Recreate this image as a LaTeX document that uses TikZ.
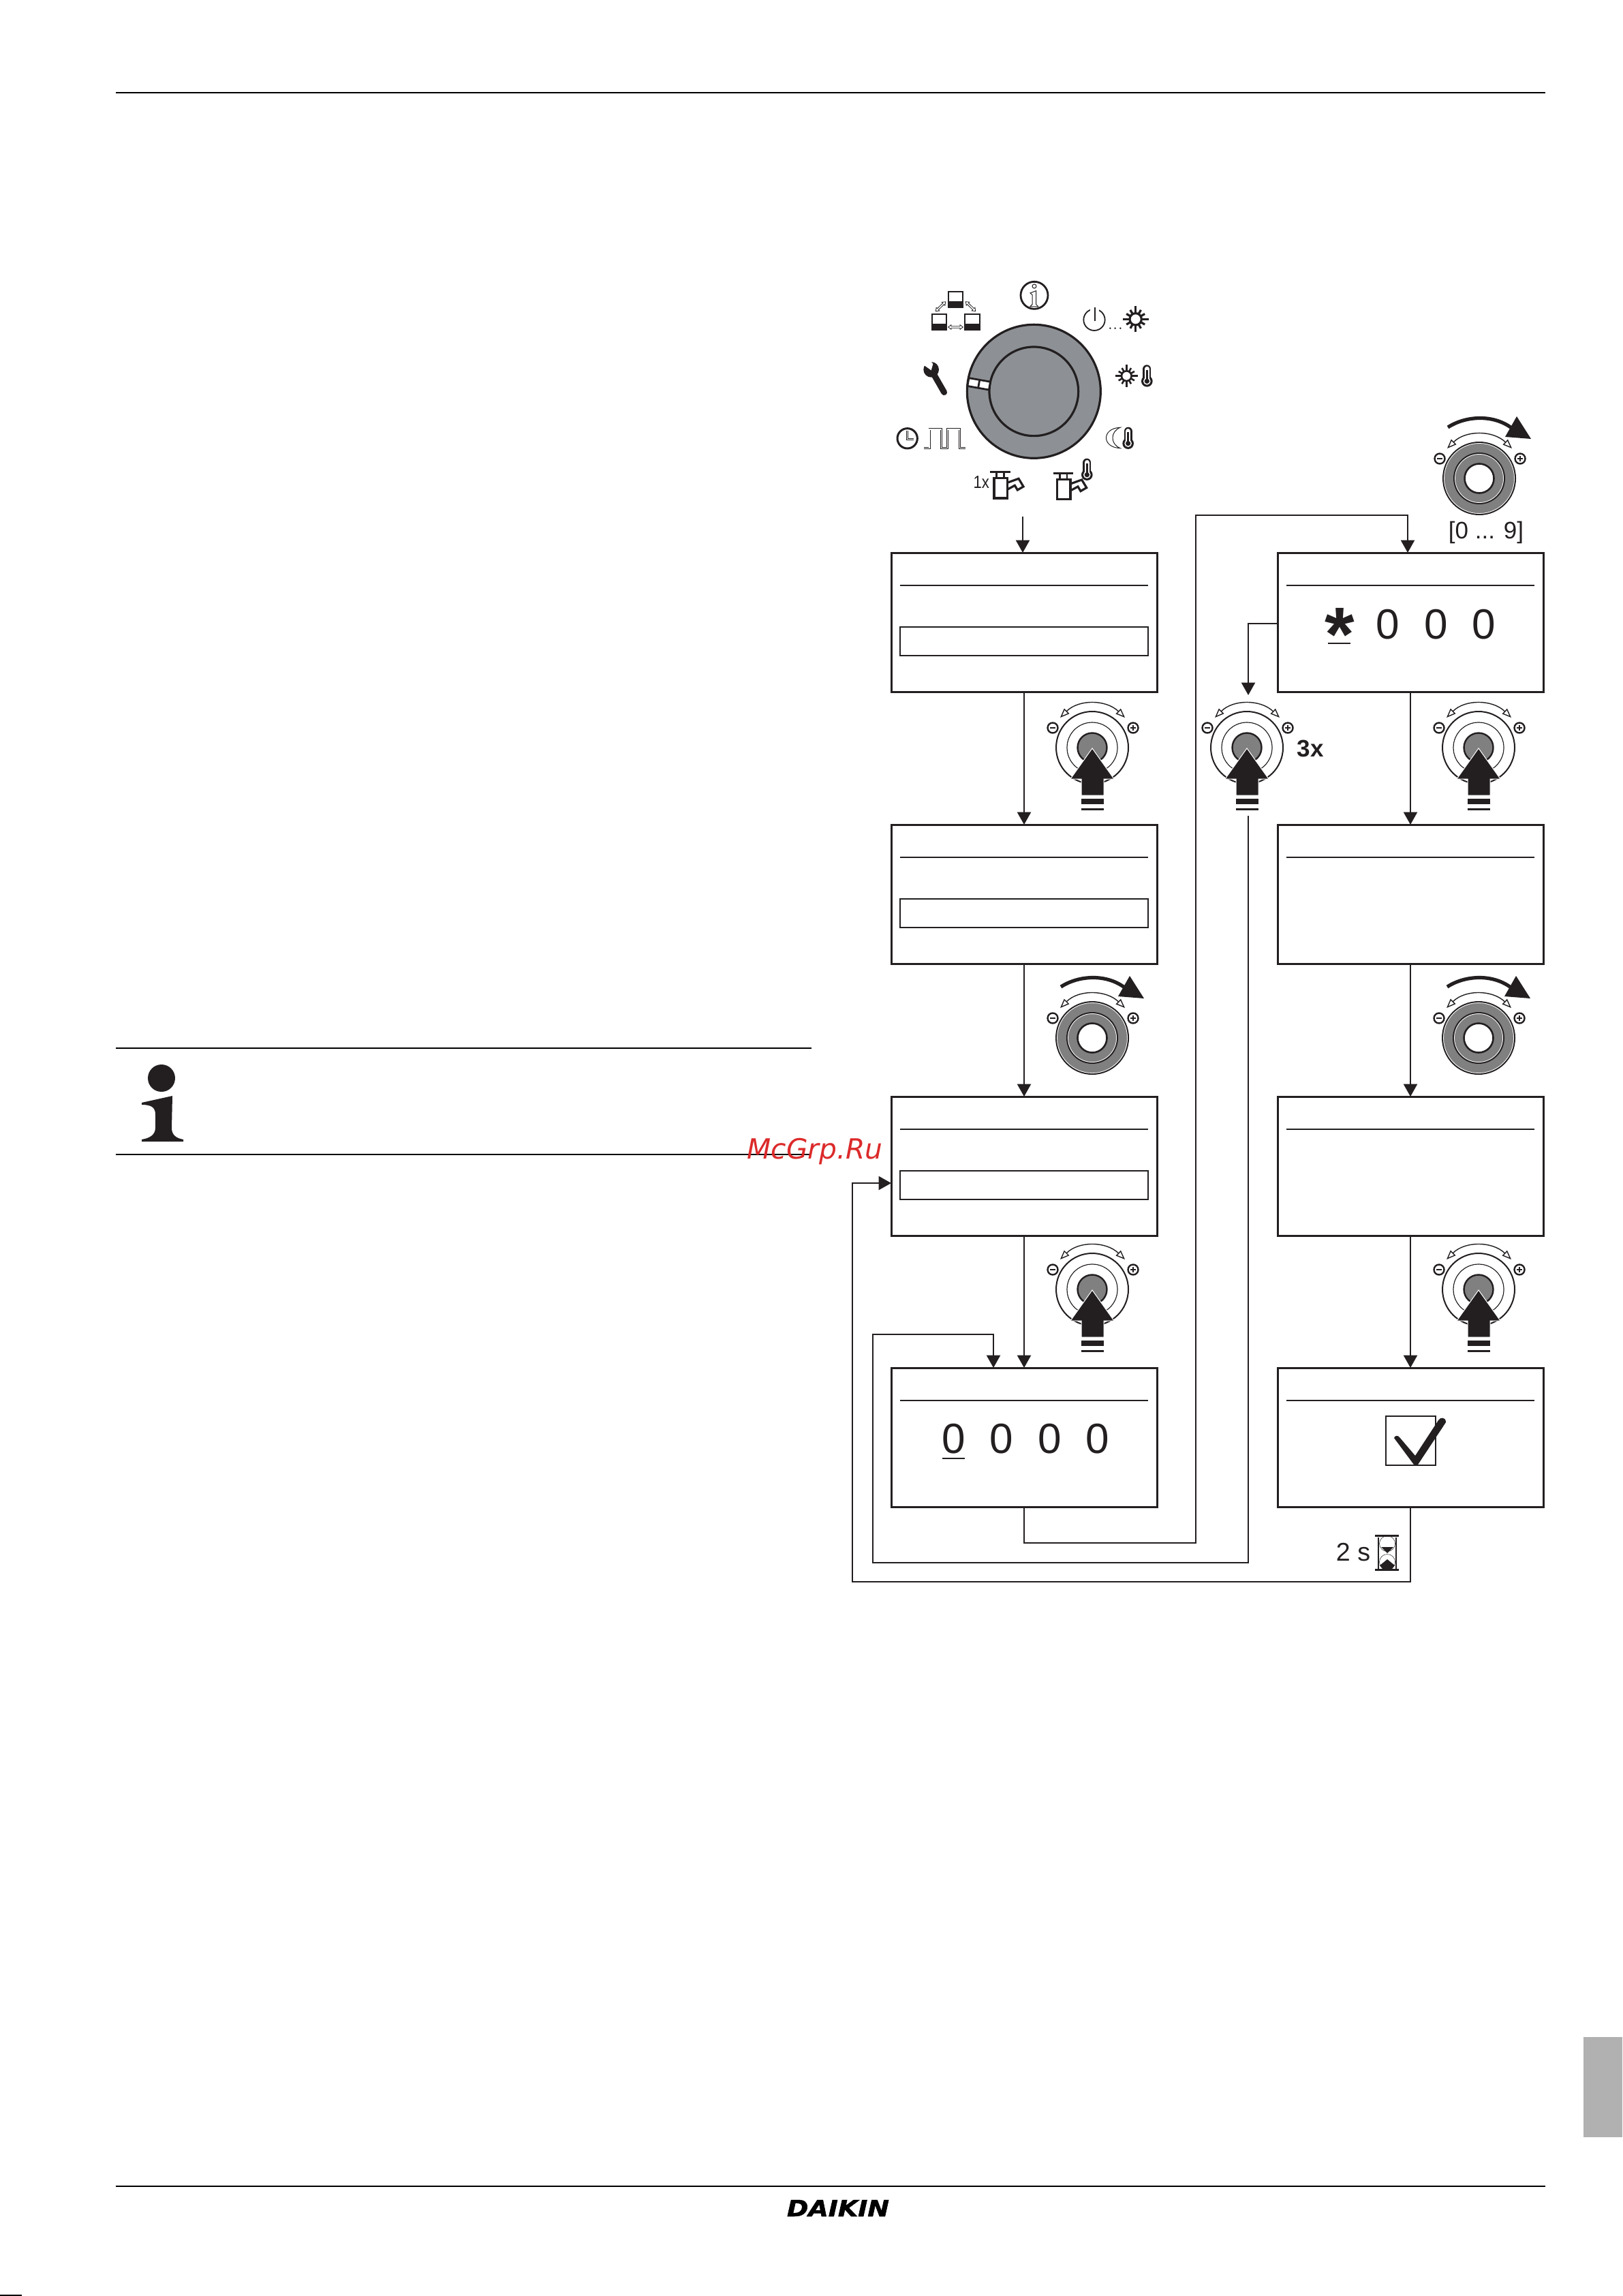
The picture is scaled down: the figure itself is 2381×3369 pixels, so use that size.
\documentclass[tikz,border=0pt]{standalone}
\usepackage{fontspec}
\setmainfont{Liberation Sans}
\newfontfamily\wmfont{DejaVu Sans}
\newfontfamily\logofont[BoldItalicFeatures={FakeBold=1.5}]{DejaVu Sans}
\usetikzlibrary{arrows.meta}
\definecolor{ink}{HTML}{231F20}
\definecolor{dialgray}{HTML}{8D9195}
\definecolor{knobgray}{HTML}{808080}
\definecolor{tabgray}{HTML}{B1B1B1}
\definecolor{wmred}{HTML}{DC2A2A}
\tikzset{
  screen/.style={draw=ink,line width=.75pt,fill=white,rectangle,inner sep=0pt,outer sep=0pt,minimum width=97.5pt,minimum height=51pt},
  conn/.style={draw=ink,line width=.6pt,line join=miter},
  flow/.style={conn,-{Triangle[length=4.6pt,width=5pt]}},
  rule/.style={draw=black,line width=.65pt},
  scr/.style={draw=ink,line width=.55pt},
  digit/.style={inner sep=0pt,outer sep=0pt,text=ink,font=\fontsize{15.5}{15.5}\selectfont},
  lab/.style={inner sep=0pt,outer sep=0pt,text=ink,font=\fontsize{9}{9}\selectfont},
  dial/.style={draw=ink,line width=.8pt},
}
\newcommand{\smallarc}{%
  \draw[ink,line width=.35pt,{Triangle[open,length=3.4pt,width=2.6pt,fill=white]}-{Triangle[open,length=3.4pt,width=2.6pt,fill=white]}]
    (-47,-44) .. controls (-20,-71) and (20,-71) .. (48,-44);
  \draw[ink,line width=.6pt,fill=white] (-58,-29) circle (7.5);
  \draw[ink,line width=.5pt] (-62,-29) -- (-54,-29);
  \draw[ink,line width=.6pt,fill=white] (60,-29) circle (7.5);
  \draw[ink,line width=.5pt] (56,-29) -- (64,-29) (60,-33) -- (60,-25);
}
\newcommand{\pressknob}[2]{%
  \begin{scope}[shift={(#1,#2)}]
  \smallarc
  \draw[ink,line width=.5pt] (0,0) circle (53);
  \draw[ink,line width=.3pt] (0,0) circle (37);
  \fill[white] (0,0) circle (36);
  \draw[ink,line width=.6pt,fill=knobgray] (0,0) circle (21.5);
  \draw[white,line width=.25pt,fill=ink] (0,1) -- (32,46) -- (17,46) -- (17,70) -- (-16,70) -- (-16,46) -- (-32,46) -- cycle;
  \fill[ink] (-16,75) rectangle (17,83);
  \fill[ink] (-16,89) rectangle (17,92);
  \end{scope}}
\newcommand{\turnknob}[2]{%
  \begin{scope}[shift={(#1,#2)}]
  \smallarc
  \draw[ink,line width=.5pt,fill=knobgray] (0,0) circle (53);
  \draw[white,line width=.2pt] (0,0) circle (51.5);
  \draw[ink,line width=.5pt] (0,0) circle (37);
  \draw[white,line width=.2pt] (0,0) circle (35.5);
  \draw[ink,line width=.65pt,fill=white] (0,0) circle (21.5);
  \draw[ink,line width=1.3pt] (-46,-75) .. controls (-20,-92) and (22,-95) .. (50,-72);
  \fill[ink] (55,-91) -- (76,-58) -- (38,-61) -- cycle;
  \end{scope}}
\newcommand{\thermoicon}[2]{%
  \draw[ink,line width=3pt,line cap=round] (#1,#2+18) -- (#1,#2+70);
  \fill[ink] (#1,#2+72) circle (25);
  \draw[white,line width=1.8pt,line cap=round] (#1,#2+18) -- (#1,#2+70);
  \fill[white] (#1,#2+72) circle (16);
  \draw[ink,line width=.6pt] (#1,#2+22) -- (#1,#2+70);
  \fill[ink] (#1,#2+72) circle (11);
}
\newcommand{\sunicon}[4]{%
  \foreach \a in {0,90,180,270} \draw[ink,line width=#4pt] ({#1+(#3)*cos(\a)},{#2+(#3)*sin(\a)}) -- (#1,#2);
  \foreach \a in {30,60,120,150,210,240,300,330} \draw[ink,line width=#4pt] ({#1+.82*(#3)*cos(\a)},{#2+.82*(#3)*sin(\a)}) -- (#1,#2);
}
\newcommand{\tapicon}[2]{%
  \begin{scope}[shift={(#1,#2)}]
  \draw[ink,line width=.8pt,fill=white] (625,985) -- (675,967) -- (696,1002) -- (670,1017) -- (658,997) -- (625,1015) -- cycle;
  \draw[ink,line width=.6pt,fill=white] (578,938) rectangle (610,965);
  \draw[ink,line width=.9pt,fill=white] (567,965) rectangle (625,1053);
  \draw[ink,line width=.75pt] (550,938) -- (638,938);
  \end{scope}}
\newcommand{\pcicon}[2]{%
  \begin{scope}[shift={(#1,#2)}]
  \draw[ink,line width=.55pt,fill=white] (3,3) rectangle (67,48);
  \fill[ink] (0,50) rectangle (70,75);
  \end{scope}}
\newcommand{\openarrow}[4]{%
  \draw[ink,line width=.2pt,fill=white,shift={(#1,#2)},rotate=#3] (0,0) -- (13,-10) -- (13,-4) -- (#4-13,-4) -- (#4-13,-10) -- (#4,0) -- (#4-13,10) -- (#4-13,4) -- (13,4) -- (13,10) -- cycle;}
\begin{document}
\begin{tikzpicture}[x=.25pt,y=-.25pt]
\useasboundingbox (0,0) rectangle (2381,3369);
\fill[white] (0,0) rectangle (2381,3369);
% page furniture
\draw[rule] (170,136) -- (2268,136);
\draw[rule] (170,3208) -- (2268,3208);
\fill[tabgray] (2324,2989) rectangle (2381,3136);
\draw[black,line width=.5pt] (0,3368) -- (32,3368);
\draw[rule] (170,1538) -- (1191,1538);
\draw[rule] (170,1694) -- (1191,1694);
\fill[ink] (237,1582) circle (20);
\fill[ink] (208,1618) -- (253,1608) -- (252,1655) .. controls (252,1665) and (258,1670) .. (269,1672) -- (269,1675) -- (208,1675) -- (208,1672) .. controls (220,1670) and (228,1665) .. (228,1655) -- (228,1635) .. controls (228,1625) and (222,1621) .. (208,1621) -- cycle;
\node[inner sep=0pt,text=black] (logo) at (1230,3240) {\resizebox{37.5pt}{6pt}{\logofont\bfseries\itshape DAIKIN}};

% screens
\node[screen] (a1) at (1503,913) {};
\node[screen] (a2) at (1503,1312) {};
\node[screen] (a3) at (1503,1711) {};
\node[screen] (a4) at (1503,2109) {};
\node[screen] (b1) at (2070,913) {};
\node[screen] (b2) at (2070,1312) {};
\node[screen] (b3) at (2070,1711) {};
\node[screen] (b4) at (2070,2109) {};
\foreach \n in {a1,a2,a3,a4,b1,b2,b3,b4}
  \draw[scr] ([xshift=13*.25pt,yshift=-48*.25pt]\n.north west) -- ([xshift=-13*.25pt,yshift=-48*.25pt]\n.north east);
\foreach \n in {a1,a2,a3}
  \draw[scr] ([xshift=13*.25pt,yshift=-109*.25pt]\n.north west) rectangle ([xshift=-13*.25pt,yshift=-151*.25pt]\n.north east);

% display contents
\node[digit] (d1) at (1400,2111) {0};
\node[digit] (d2) at (1470,2111) {0};
\node[digit] (d3) at (1541,2111) {0};
\node[digit] (d4) at (1611,2111) {0};
\draw[ink,line width=.7pt] (1383,2140) -- (1416,2140);
\node[digit] (e2) at (2037,916) {0};
\node[digit] (e3) at (2108,916) {0};
\node[digit] (e4) at (2178,916) {0};
\node[inner sep=0pt,outer sep=0pt,anchor=base,text=ink,font=\fontsize{28}{28}\selectfont\bfseries] (star) at (1966,969) {*};
\draw[ink,line width=.7pt] (1949,944) -- (1982,944);
\draw[ink,line width=.6pt] (2034,2078) rectangle (2107,2150);
\fill[ink] (2046,2110) .. controls (2047,2106) and (2052,2106) .. (2054,2109) -- (2077,2136) -- (2111,2084) .. controls (2114,2079) and (2122,2079) .. (2122,2087) -- (2081,2149) -- (2075,2149) -- cycle;

% knobs
\pressknob{1603}{1097}
\pressknob{1603}{1892}
\pressknob{1830}{1097}
\pressknob{2170}{1097}
\pressknob{2170}{1892}
\turnknob{1603}{1523}
\turnknob{2170}{1523}
\turnknob{2171}{702}
\node[lab,font=\fontsize{8.75}{9}\selectfont] (range) at (2181,781) {[0 ... 9]};
\node[lab,font=\fontsize{8.75}{9}\selectfont\bfseries] (three) at (1923,1098) {3x};
\node[lab,font=\fontsize{9.4}{10}\selectfont] (twos) at (1986,2278) {2 s};

% hourglass
\draw[ink,line width=.35pt] (2023,2256) -- (2023,2302) (2049,2256) -- (2049,2302);
\draw[ink,line width=.12pt] (2036,2265) circle (11.5) (2036,2292) circle (11.5);
\fill[ink] (2018,2252) rectangle (2053,2255);
\fill[ink] (2018,2302) rectangle (2053,2305);
\fill[ink] (2027,2270) -- (2045,2270) -- (2036,2279) -- cycle;
\fill[ink] (2036,2288) -- (2047,2297) -- (2043,2302) -- (2029,2302) -- (2025,2297) -- cycle;

% named free ends
\coordinate (s0) at (1501,758);
\coordinate (a1in) at (1501,811);
\coordinate (b1in) at (2066,811);
\coordinate (a4loop) at (1458,2007);
\coordinate (a4out) at (1503,2211);
\coordinate (a3in) at (1308,1736);
\coordinate (b1out) at (1875,915);
\coordinate (k3top) at (1832,1020);
\coordinate (k3bot) at (1832,1197);

% connectors
\draw[flow] (s0) -- (a1in);
\draw[flow] (a1.south) -- (a2.north);
\draw[flow] (a2.south) -- (a3.north);
\draw[flow] (a3.south) -- (a4.north);
\draw[flow] (b1.south) -- (b2.north);
\draw[flow] (b2.south) -- (b3.north);
\draw[flow] (b3.south) -- (b4.north);
\draw[flow] (b1out) -- (k3top |- b1out) -- (k3top);
\draw[flow] (a4out) -- (1503,2264) -- (1755,2264) -- (1755,756) -- (2066,756) -- (b1in);
\draw[flow] (k3bot) -- (1832,2293) -- (1281,2293) -- (1281,1958) -- (1458,1958) -- (a4loop);
\draw[flow] (b4.south) -- (2070,2321) -- (1251,2321) -- (1251,1736) -- (a3in);

% rotary dial and icons, coordinates of a 3x enlargement
\begin{scope}[shift={(1270,380)},x=.08333pt,y=-.08333pt]
  \draw[dial,fill=dialgray] (742,583) circle (294);
  \draw[dial,fill=dialgray] (742,583) circle (196);
  \draw[ink,line width=.7pt,fill=white,rotate around={-10:(500,550)}] (452,532) rectangle (548,568);
  \draw[ink,line width=.7pt,rotate around={-10:(500,550)}] (500,532) -- (500,568);
  % info
  \draw[ink,line width=.7pt] (744,160) circle (60);
  \draw[ink,line width=.25pt] (744,120) circle (9);
  \draw[ink,line width=.25pt,fill=white] (752,140) -- (726,150) -- (735,158) -- (735,200) -- (725,210) -- (762,210) -- (752,200) -- cycle;
  % network
  \pcicon{362}{140}
  \pcicon{290}{240}
  \pcicon{436}{240}
  \openarrow{310}{230}{44}{60}
  \openarrow{442}{188}{-44}{60}
  \openarrow{365}{300}{0}{65}
  % power to sun
  \draw[ink,line width=.45pt] (1008,268) circle (47);
  \fill[white] (990,212) rectangle (1030,235);
  \draw[ink,line width=.5pt] (1010,212) -- (1010,272);
  \fill[ink] (1078,305) circle (4) (1100,305) circle (4) (1123,305) circle (4);
  \sunicon{1190}{265}{57}{.8}
  \fill[white] (1190,265) circle (26);
  \draw[ink,line width=.8pt] (1190,265) circle (26);
  % sun thermometer
  \sunicon{1150}{515}{49}{.65}
  \fill[white] (1150,515) circle (22);
  \draw[ink,line width=.65pt] (1150,515) circle (22);
  \thermoicon{1240}{466}
  % moon thermometer
  \draw[ink,line width=.25pt,fill=white] (1122,742) .. controls (1040,745) and (1040,830) .. (1122,833) .. controls (1078,815) and (1078,760) .. cycle;
  \thermoicon{1157}{740}
  % wrench
  \draw[ink,line width=2.2pt,line cap=round] (300,505) -- (347,587);
  \fill[ink] (290,487) circle (34);
  \fill[white] (240,455) -- (290,490) -- (298,462) -- (278,438) -- cycle;
  % clock and pulses
  \draw[ink,line width=.75pt] (185,790) circle (44);
  \draw[ink,line width=.25pt] (180,755) -- (180,798) -- (212,798);
  \draw[ink,line width=.25pt] (186,755) -- (186,792) -- (212,792);
  \draw[ink,line width=.2pt,double=white,double distance=.35pt,line join=miter] (258,832) -- (282,832) -- (282,750) -- (335,750) -- (335,832) -- (362,832) -- (362,750) -- (416,750) -- (416,832) -- (440,832);
  % taps
  \node[inner sep=0pt,outer sep=0pt,text=ink,font=\fontsize{6.5}{6}\selectfont] (once) at (511,982) {\scalebox{.85}[1]{1x}};
  \tapicon{0}{0}
  \tapicon{278}{5}
  \thermoicon{976}{878}
\end{scope}

% watermark
\node[inner sep=0pt,outer sep=0pt,text=wmred,font=\wmfont\itshape\fontsize{10.2}{10}\selectfont] (mark) at (1196,1690) {McGrp.Ru};
\end{tikzpicture}
\end{document}
